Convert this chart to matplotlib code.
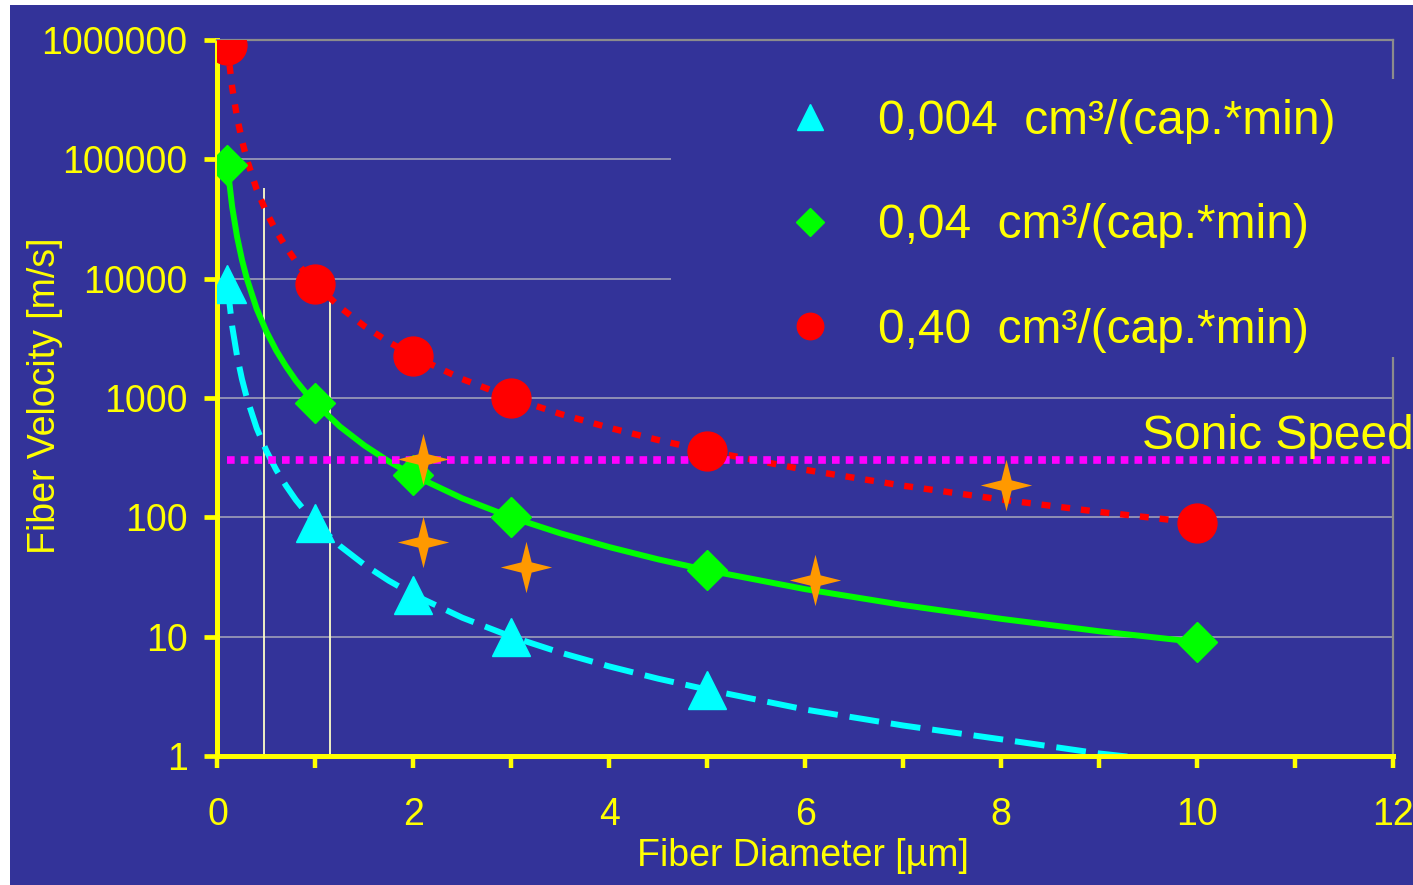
import numpy as np
import matplotlib
matplotlib.use('Agg')
import matplotlib.pyplot as plt
from matplotlib.patches import Rectangle
from matplotlib.path import Path
from matplotlib.ticker import FixedLocator, FuncFormatter, MultipleLocator

plt.rcParams['font.family'] = ['Liberation Sans', 'DejaVu Sans']

# measured points (markers); the 0,004 point at 10 µm lies below the axis
diam = [0.1, 1, 2, 3, 5, 10]
diam_004 = [0.1, 1, 2, 3, 5]
v_004 = [9000, 90, 22.5, 10, 3.6]
v_04 = [90000, 900, 225, 100, 36, 9]
v_40 = [900000, 9000, 2250, 1000, 360, 90]

# fitted curves
curve_d = [0.1, 0.15, 0.2, 0.25, 0.3, 0.4, 0.5, 0.6, 0.7, 0.8, 0.9, 1,
           1.25, 1.5, 1.75, 2, 2.5, 3, 3.5, 4, 4.5, 5, 6, 7, 8, 9, 10]
curve_40 = [900000, 400000, 225000, 144000, 100000, 56000, 36000, 25000,
            18400, 14000, 11100, 9000, 5760, 4000, 2940, 2250, 1440, 1000,
            735, 563, 444, 360, 250, 184, 141, 111, 90]
curve_04 = [90000, 40000, 22500, 14400, 10000, 5600, 3600, 2500, 1840,
            1400, 1110, 900, 576, 400, 294, 225, 144, 100, 73.5, 56.3,
            44.4, 36, 25, 18.4, 14.1, 11.1, 9]
curve_004 = [9000, 4000, 2250, 1440, 1000, 560, 360, 250, 184, 140, 111,
             90, 57.6, 40, 29.4, 22.5, 14.4, 10, 7.35, 5.63, 4.44, 3.6,
             2.45, 1.8, 1.38, 1.05, 0.85]

# experimental points (stars)
exp_d = [2.1, 2.1, 3.15, 6.1, 8.05]
exp_v = [310, 62, 38, 30, 185]

sonic_x = [0.1, 12]
sonic_v = 300

vline_x = [0.48, 1.15]
vline_top = [57000, 8500]

yticks = [1, 10, 100, 1000, 10000, 100000, 1000000]

labels = ['0,004  cm³/(cap.*min)', '0,04  cm³/(cap.*min)', '0,40  cm³/(cap.*min)']

navy = '#333399'
yellow = '#FFFF00'

fig = plt.figure(figsize=(14.13, 8.85), dpi=100, facecolor='white')
fig.add_artist(Rectangle((10 / 1413, 0), 1, 880 / 885, transform=fig.transFigure,
                         facecolor=navy, edgecolor='none', zorder=0))
ax = fig.add_axes([0.1539, 0.1458, 0.8319, 0.8090])
ax.set_facecolor(navy)

ax.set_yscale('log')
ax.set_xlim(0, 12)
ax.set_ylim(1, 1000000)

ax.yaxis.set_major_locator(FixedLocator(yticks))
ax.yaxis.set_minor_locator(FixedLocator([]))
ax.yaxis.set_major_formatter(FuncFormatter(lambda v, p: '%d' % int(round(v))))
ax.xaxis.set_major_locator(MultipleLocator(2))
ax.xaxis.set_minor_locator(MultipleLocator(1))

ax.grid(True, axis='y', color='#a8a8bc', lw=1.1)
ax.set_axisbelow(True)

# thin guide lines
ax.vlines(vline_x, 1, vline_top, color='#ffffc8', lw=1.3, zorder=1.5)

# curves
ax.plot(curve_d, curve_40, color='red', lw=4.6, dashes=(1.4, 1.7), zorder=2)
ax.plot(curve_d, curve_04, color='#00ff00', lw=4.3, zorder=2)
ax.plot(curve_d, curve_004, color='#00ffff', lw=4.3, dashes=(5, 2), zorder=2)

# sonic speed
ax.plot(sonic_x, [sonic_v, sonic_v], color='#ff00ff', lw=5.5, dashes=(1, 0.8),
        solid_capstyle='butt', dash_capstyle='butt', zorder=2.2)
ax.text(9.44, 372, 'Sonic Speed', color=yellow, fontsize=34.5, va='baseline',
        ha='left', clip_on=False)

# markers
h1, = ax.plot(diam_004, v_004, ls='none', marker='^', ms=28, color='#00ffff',
              label=labels[0], zorder=3)
h2, = ax.plot(diam, v_04, ls='none', marker='D', ms=20.5, color='#00ff00',
              label=labels[1], zorder=3)
h3, = ax.plot(diam, v_40, ls='none', marker='o', ms=28, color='red',
              label=labels[2], zorder=3)

r = 0.2
star = Path([(0, 1), (r, r), (1, 0), (r, -r), (0, -1), (-r, -r), (-1, 0), (-r, r), (0, 1)],
            [Path.MOVETO] + [Path.LINETO] * 7 + [Path.CLOSEPOLY])
ax.plot(exp_d, exp_v, ls='none', marker=star, ms=37, color='#ff9900',
        markeredgewidth=0, zorder=3.5)

# spines and ticks
for s in ['left', 'bottom']:
    ax.spines[s].set_color(yellow)
    ax.spines[s].set_linewidth(3.6)
for s in ['top', 'right']:
    ax.spines[s].set_color('#8c8c8c')
    ax.spines[s].set_linewidth(1.6)

ax.tick_params(axis='y', which='both', direction='out', length=9.5, width=3.4,
               color=yellow, labelcolor=yellow, labelsize=27, pad=12)
ax.tick_params(axis='x', which='both', direction='out', length=8.5, width=3.2,
               color=yellow, labelcolor=yellow, labelsize=27, pad=21)

ax.set_xlabel('Fiber Diameter [µm]', color=yellow, fontsize=27)
ax.xaxis.set_label_coords(0.498, -0.114)
ax.set_ylabel('Fiber Velocity [m/s]', color=yellow, fontsize=27)
ax.yaxis.set_label_coords(-0.1314, 0.503)

# legend box hides grid lines and right spine behind it
ax.add_patch(Rectangle((0.3855, 0.557), 0.65, 0.388, transform=ax.transAxes,
                       facecolor=navy, edgecolor='none', zorder=2.6, clip_on=False))
leg = ax.legend(handles=[h1, h2, h3], loc='upper left', bbox_to_anchor=(0.4836, 0.9175),
                frameon=False, fontsize=34.5, markerscale=0.68, handlelength=1.0,
                handletextpad=0.92, labelspacing=1.24, borderpad=0, borderaxespad=0,
                numpoints=1)
for t in leg.get_texts():
    t.set_color(yellow)
leg.set_zorder(5)

fig.savefig('out.png', dpi=100, facecolor=fig.get_facecolor())
